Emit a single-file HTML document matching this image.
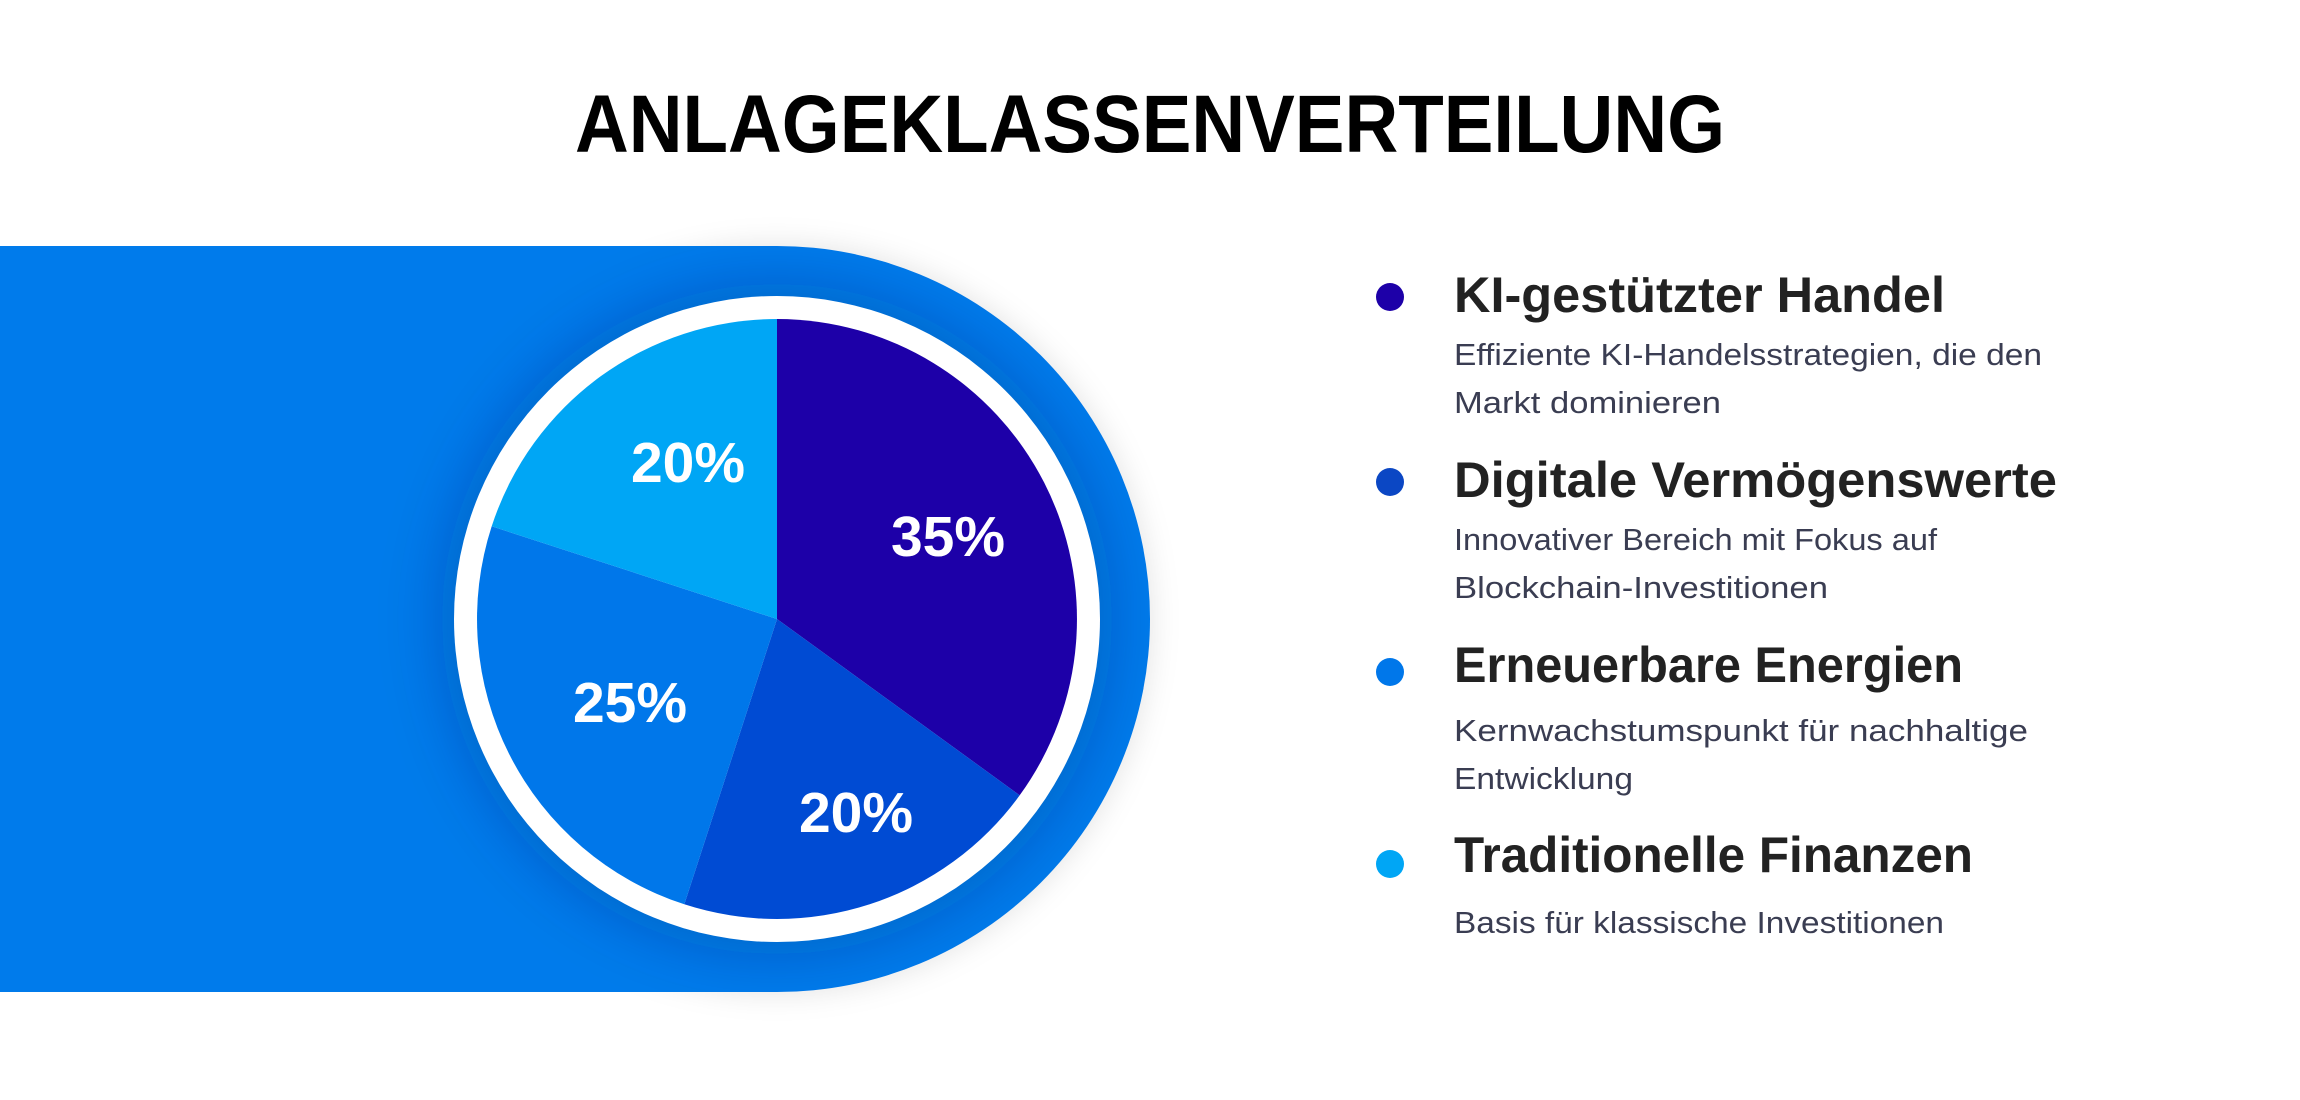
<!DOCTYPE html>
<html><head><meta charset="utf-8"><style>
html,body{margin:0;padding:0;background:#fff;width:2300px;height:1100px;overflow:hidden}
</style></head><body>
<svg width="2300" height="1100" viewBox="0 0 2300 1100" xmlns="http://www.w3.org/2000/svg">
<defs>
<filter id="sh" x="-30%" y="-30%" width="160%" height="160%"><feGaussianBlur stdDeviation="14"/></filter>
<filter id="sh2" x="-30%" y="-30%" width="160%" height="160%"><feGaussianBlur stdDeviation="30"/></filter>
<clipPath id="band"><path d="M0 246 H777 A373 373 0 0 1 777 992 H0 Z"/></clipPath>
</defs>
<rect width="2300" height="1100" fill="#fff"/>
<text x="1150" y="152" text-anchor="middle" font-family="Liberation Sans, sans-serif" font-weight="bold" font-size="82" textLength="1150" lengthAdjust="spacingAndGlyphs" fill="#000">ANLAGEKLASSENVERTEILUNG</text>
<circle cx="777" cy="619" r="375" fill="rgba(0,0,0,0.10)" filter="url(#sh)"/>
<path d="M0 246 H777 A373 373 0 0 1 777 992 H0 Z" fill="#007BEB"/>
<g clip-path="url(#band)">
<circle cx="777" cy="619" r="335" fill="rgba(10,40,100,0.25)" filter="url(#sh2)"/>
</g>
<circle cx="777" cy="619" r="323" fill="#fff"/>
<path d="M777 619 L777 319 A300 300 0 0 1 1019.7 795.3 Z" fill="#1D00A8"/>
<path d="M777 619 L1019.7 795.3 A300 300 0 0 1 684.3 904.3 Z" fill="#004BD3"/>
<path d="M777 619 L684.3 904.3 A300 300 0 0 1 491.7 526.3 Z" fill="#0077EA"/>
<path d="M777 619 L491.7 526.3 A300 300 0 0 1 777 319 Z" fill="#00A6F5"/>
<g font-family="Liberation Sans, sans-serif" font-weight="bold" font-size="57" fill="#fff" text-anchor="middle">
<text x="948" y="556">35%</text>
<text x="856" y="832">20%</text>
<text x="630" y="722">25%</text>
<text x="688" y="482">20%</text>
</g>
<circle cx="1390" cy="297" r="14" fill="#1D00A8"/>
<circle cx="1390" cy="482" r="14" fill="#0B47C4"/>
<circle cx="1390" cy="672" r="14" fill="#0077EA"/>
<circle cx="1390" cy="864" r="14" fill="#00A6F5"/>
<g font-family="Liberation Sans, sans-serif" font-weight="bold" font-size="50" fill="#222">
<text x="1454" y="312" textLength="491" lengthAdjust="spacingAndGlyphs">KI-gestützter Handel</text>
<text x="1454" y="497" textLength="603" lengthAdjust="spacingAndGlyphs">Digitale Vermögenswerte</text>
<text x="1454" y="682" textLength="509" lengthAdjust="spacingAndGlyphs">Erneuerbare Energien</text>
<text x="1454" y="872" textLength="519" lengthAdjust="spacingAndGlyphs">Traditionelle Finanzen</text>
</g>
<g font-family="Liberation Sans, sans-serif" font-size="31" fill="#3a3d52">
<text x="1454" y="365" textLength="588" lengthAdjust="spacingAndGlyphs">Effiziente KI-Handelsstrategien, die den</text>
<text x="1454" y="413" textLength="267" lengthAdjust="spacingAndGlyphs">Markt dominieren</text>
<text x="1454" y="550" textLength="483" lengthAdjust="spacingAndGlyphs">Innovativer Bereich mit Fokus auf</text>
<text x="1454" y="598" textLength="374" lengthAdjust="spacingAndGlyphs">Blockchain-Investitionen</text>
<text x="1454" y="741" textLength="574" lengthAdjust="spacingAndGlyphs">Kernwachstumspunkt für nachhaltige</text>
<text x="1454" y="789" textLength="179" lengthAdjust="spacingAndGlyphs">Entwicklung</text>
<text x="1454" y="933" textLength="490" lengthAdjust="spacingAndGlyphs">Basis für klassische Investitionen</text>
</g>
</svg>
</body></html>
